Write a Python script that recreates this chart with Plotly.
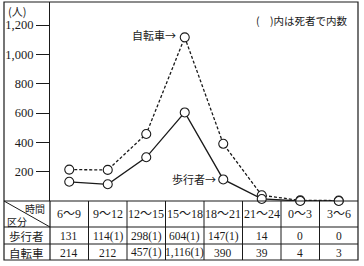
import plotly.graph_objects as go

# ---- data ----
periods = ["6〜9", "9〜12", "12〜15", "15〜18", "18〜21", "21〜24", "0〜3", "3〜6"]
walkers = [131, 114, 298, 604, 147, 14, 0, 0]
walker_labels = ["131", "114(1)", "298(1)", "604(1)", "147(1)", "14", "0", "0"]
bicycles = [214, 212, 457, 1116, 390, 39, 4, 3]
bicycle_labels = ["214", "212", "457(1)", "1,116(1)", "390", "39", "4", "3"]
y_ticks = [200, 400, 600, 800, 1000, 1200]

W, H = 364, 266
def px(x):
    return x / W
def py(y):
    return 1 - y / H

SERIF = "Liberation Serif, Noto Sans CJK JP, serif"
JP = "Noto Sans CJK JP, sans-serif"
INK = "#1a1a1a"

idx = list(range(len(periods)))

fig = go.Figure()
fig.add_trace(go.Scatter(
    x=idx, y=bicycles, mode="lines+markers",
    line=dict(color=INK, width=1.3, dash="3px,2px"),
    marker=dict(symbol="circle", size=9, color="white", line=dict(color=INK, width=1.1)),
    cliponaxis=False, showlegend=False))
fig.add_trace(go.Scatter(
    x=idx, y=walkers, mode="lines+markers",
    line=dict(color=INK, width=1.3),
    marker=dict(symbol="circle", size=9, color="white", line=dict(color=INK, width=1.1)),
    cliponaxis=False, showlegend=False))

x_left, x_right = 50, 358
y_top, y_zero = 2, 201
row1, row2, y_bot = 227, 244, 260
outer_left = 4

fig.update_layout(
    width=W, height=H, margin=dict(l=0, r=0, t=0, b=0),
    paper_bgcolor="white", plot_bgcolor="white",
    xaxis=dict(domain=[px(x_left), px(x_right)], range=[-0.5, len(periods) - 0.5],
               showticklabels=False, showgrid=False, zeroline=False, showline=False, ticks=""),
    yaxis=dict(domain=[py(y_zero), py(y_top)], range=[0, 1357],
               tickvals=y_ticks, tickformat=",", ticks="outside", ticklen=13,
               tickcolor=INK, tickwidth=1.2, showgrid=False, zeroline=False,
               showline=True, linecolor=INK, linewidth=1.2,
               tickfont=dict(family=SERIF, size=12.5, color=INK)),
)

shapes = []
line = dict(color=INK, width=1.2)
# outer frame
shapes.append(dict(type="rect", xref="paper", yref="paper", x0=px(outer_left), x1=px(x_right),
                   y0=py(y_bot), y1=py(y_top), line=line))
# label column line through table
shapes.append(dict(type="line", xref="paper", yref="paper", x0=px(x_left), x1=px(x_left),
                   y0=py(y_bot), y1=py(y_zero), line=line))
# horizontal table lines
for yy in [y_zero, row1, row2]:
    shapes.append(dict(type="line", xref="paper", yref="paper", x0=px(outer_left), x1=px(x_right),
                       y0=py(yy), y1=py(yy), line=line))
# column separators
for i in range(len(periods) - 1):
    shapes.append(dict(type="line", xref="x", yref="paper", x0=i + 0.5, x1=i + 0.5,
                       y0=py(y_bot), y1=py(y_zero), line=dict(color=INK, width=1)))
# diagonal in header cell
shapes.append(dict(type="line", xref="paper", yref="paper", x0=px(outer_left), x1=px(x_left),
                   y0=py(y_zero), y1=py(row1), line=dict(color=INK, width=1)))
fig.update_layout(shapes=shapes)

ann = []
def text(x, y, t, xref="paper", size=12, family=SERIF, xanchor="center"):
    ann.append(dict(x=x, y=y, xref=xref, yref="paper", text=t, showarrow=False,
                    xanchor=xanchor, yanchor="middle",
                    font=dict(family=family, size=size, color=INK)))

for i, p in enumerate(periods):
    text(i, py(214), p, xref="x", size=12)
    text(i, py(236), walker_labels[i], xref="x", size=11.5)
    text(i, py(252.5), bicycle_labels[i], xref="x", size=11.5)

text(px(47), py(208), "時間", size=10, family=JP, xanchor="right")
text(px(5), py(221), "区分", size=10, family=JP, xanchor="left")
text(px(26), py(236), "歩行者", size=11.5, family=JP)
text(px(26), py(252.5), "自転車", size=11.5, family=JP)

text(px(6), py(11), "(人)", size=11, family=JP, xanchor="left")
text(px(350), py(20), "(　)内は死者で内数", size=10.5, family=JP, xanchor="right")
text(px(178), py(35), "自転車→", size=11, family=JP, xanchor="right")
text(px(218), py(179), "歩行者→", size=11, family=JP, xanchor="right")
fig.update_layout(annotations=ann)

fig.write_html("out.html")
